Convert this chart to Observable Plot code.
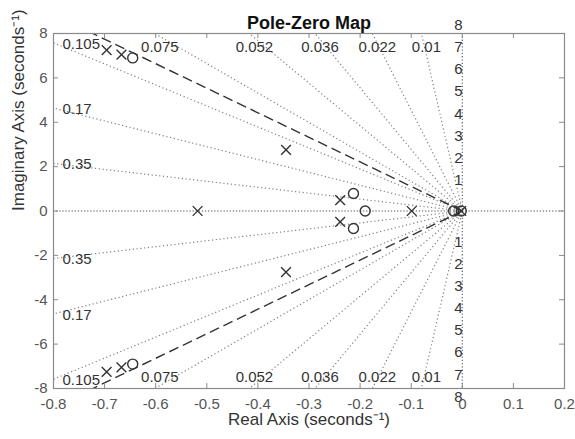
<!DOCTYPE html>
<html>
<head>
<meta charset="utf-8">
<script src="https://cdn.jsdelivr.net/npm/d3@7"></script>
<script src="https://cdn.jsdelivr.net/npm/@observablehq/plot@0.6"></script>
<style>
  html, body { margin: 0; padding: 0; background: #fff; }
  #chart { width: 575px; height: 439px; }
</style>
</head>
<body>
<div id="chart"></div>
<script>
// ---- chart data ----
const title = "Pole-Zero Map";
const xLabel = "Real Axis (seconds⁻¹)";
const yLabel = "Imaginary Axis (seconds⁻¹)";

const xTicks = [-0.8, -0.7, -0.6, -0.5, -0.4, -0.3, -0.2, -0.1, 0, 0.1, 0.2];
const xTickLabels = ["-0.8", "-0.7", "-0.6", "-0.5", "-0.4", "-0.3", "-0.2", "-0.1", "0", "0.1", "0.2"];
const yTicks = [-8, -6, -4, -2, 0, 2, 4, 6, 8];
const yTickLabels = ["-8", "-6", "-4", "-2", "0", "2", "4", "6", "8"];

// damping-ratio grid (sgrid) and natural-frequency labels
const dampingRatios = [0.01, 0.022, 0.036, 0.052, 0.075, 0.105, 0.17, 0.35];
const dampingLabels = ["0.01", "0.022", "0.036", "0.052", "0.075", "0.105", "0.17", "0.35"];
const naturalFreqs = [1, 2, 3, 4, 5, 6, 7, 8];
const naturalFreqLabels = ["1", "2", "3", "4", "5", "6", "7", "8"];

// dashed design line (constant damping ratio)
const designZeta = 0.09;

// poles (x) and zeros (o)
const poleRe = [-0.696, -0.696, -0.667, -0.667, -0.345, -0.345, -0.518, -0.239, -0.239, -0.099, -0.002];
const poleIm = [7.25, -7.25, 7.05, -7.05, 2.76, -2.76, 0, 0.49, -0.49, 0, 0];
const zeroRe = [-0.645, -0.645, -0.213, -0.213, -0.190, -0.017, -0.002];
const zeroIm = [6.90, -6.90, 0.79, -0.79, 0, 0, 0];

// ---- derived tables ----
const xDomain = [xTicks[0], xTicks[xTicks.length - 1]];
const yDomain = [yTicks[0], yTicks[yTicks.length - 1]];
const FAR = 60; // ray length (clipped to frame)

const rays = [];
const leftLabels = [];
const topLabels = [];
const bottomLabels = [];
dampingRatios.forEach((z, i) => {
  const s = Math.sqrt(1 - z * z) / z;
  for (const sign of [1, -1]) {
    rays.push({x2: -FAR * z, y2: sign * FAR * Math.sqrt(1 - z * z)});
    const yLeft = -xDomain[0] * s;
    if (yLeft <= yDomain[1]) {
      leftLabels.push({x: xDomain[0], y: sign * yLeft, text: dampingLabels[i]});
    } else {
      (sign > 0 ? topLabels : bottomLabels).push({x: -yDomain[1] / s, y: sign * yDomain[1], text: dampingLabels[i]});
    }
  }
});
const designRays = [1, -1].map(sign => ({x2: -FAR * designZeta, y2: sign * FAR * Math.sqrt(1 - designZeta ** 2)}));
const wnPos = naturalFreqs.map((w, i) => ({y: w, text: naturalFreqLabels[i]}));
const wnNeg = naturalFreqs.map((w, i) => ({y: -w, text: naturalFreqLabels[i]}));
const poles = poleRe.map((re, i) => ({re, im: poleIm[i]}));
const zeros = zeroRe.map((re, i) => ({re, im: zeroIm[i]}));

const fmtX = d => xTickLabels[xTicks.findIndex(t => Math.abs(t - d) < 1e-9)];
const fmtY = d => yTickLabels[yTicks.findIndex(t => Math.abs(t - d) < 1e-9)];

const FONT = "'Liberation Sans', Arial, Helvetica, sans-serif";
const frameColor = "#8a8a8a";
const gridColor = "#808080";
const ink = "#333";

const chart = Plot.plot({
  width: 575,
  height: 439,
  marginLeft: 53,
  marginRight: 11,
  marginTop: 33,
  marginBottom: 51,
  style: {fontFamily: FONT, fontSize: "15px", background: "#fff", color: ink},
  x: {domain: xDomain},
  y: {domain: yDomain},
  marks: [
    // damping ratio rays
    Plot.link(rays, {x1: 0, y1: 0, x2: "x2", y2: "y2", stroke: gridColor, strokeWidth: 1.2, strokeDasharray: "1.2,2.6", clip: true}),
    // axes lines (dotted)
    Plot.ruleY([0], {stroke: "#555", strokeWidth: 1.2, strokeDasharray: "1.3,1.8"}),
    Plot.ruleX([0], {stroke: "#666", strokeWidth: 1.2, strokeDasharray: "1.3,2"}),
    // dashed design lines
    Plot.link(designRays, {x1: 0, y1: 0, x2: "x2", y2: "y2", stroke: ink, strokeWidth: 1.4, strokeDasharray: "10,5", clip: true}),
    // damping labels
    Plot.text(leftLabels, {x: "x", y: "y", text: "text", textAnchor: "start", dx: 9, dy: 1, fill: ink, fontSize: 15}),
    Plot.text(topLabels, {x: "x", y: "y", text: "text", textAnchor: "middle", dx: 5, dy: 14, fill: ink, fontSize: 15}),
    Plot.text(bottomLabels, {x: "x", y: "y", text: "text", textAnchor: "middle", dx: 5, dy: -11, fill: ink, fontSize: 15}),
    // natural frequency labels
    Plot.text(wnPos, {x: 0, y: "y", text: "text", textAnchor: "middle", dx: -4, dy: -8.5, fill: ink, fontSize: 15}),
    Plot.text(wnNeg, {x: 0, y: "y", text: "text", textAnchor: "middle", dx: -4, dy: 8.5, fill: ink, fontSize: 15}),
    // poles and zeros
    Plot.dot(poles, {x: "re", y: "im", symbol: "times", r: 4.5, stroke: ink, strokeWidth: 1.4}),
    Plot.dot(zeros, {x: "re", y: "im", symbol: "circle", r: 5, stroke: ink, fill: "none", strokeWidth: 1.4}),
    // inward ticks
    Plot.tickX(xTicks, {x: d => d, insetTop: 350, stroke: frameColor}),
    Plot.tickX(xTicks, {x: d => d, insetBottom: 350, stroke: frameColor}),
    Plot.tickY(yTicks, {y: d => d, insetRight: 506, stroke: frameColor}),
    Plot.tickY(yTicks, {y: d => d, insetLeft: 506, stroke: frameColor}),
    Plot.frame({stroke: frameColor, strokeWidth: 1.2}),
    // tick labels
    Plot.axisX({ticks: xTicks, tickFormat: fmtX, tickSize: 0, tickPadding: 10, fontSize: 15, fill: "#555", label: null}),
    Plot.axisY({ticks: yTicks, tickFormat: fmtY, tickSize: 0, tickPadding: 6, fontSize: 15, fill: "#555", label: null}),
    // titles
    Plot.text([title], {text: d => d, frameAnchor: "top", dy: -17, fontSize: 18, fontWeight: "bold", fill: "#111"}),
    Plot.text([xLabel], {text: d => d, frameAnchor: "bottom", dy: 36, fontSize: 17, fill: ink}),
    Plot.text([yLabel], {text: d => d, frameAnchor: "left", dx: -35, rotate: -90, fontSize: 17, fill: ink})
  ]
});
document.getElementById("chart").appendChild(chart);
</script>
</body>
</html>
